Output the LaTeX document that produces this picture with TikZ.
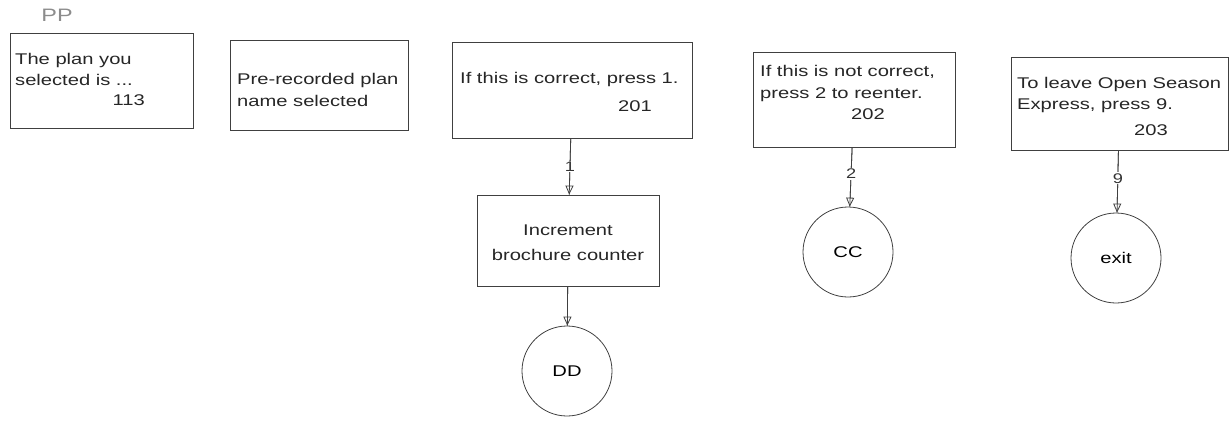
\documentclass[tikz,border=0pt]{standalone}
\usepackage{fontspec}
\setmainfont[FakeStretch=1.3]{Liberation Sans}
\usetikzlibrary{arrows.meta}
\tikzset{
  ln/.style={draw=black!75, line width=0.8pt},
  box/.style={ln, rectangle, inner sep=0pt},
  circ/.style={ln, circle, minimum size=90pt, inner sep=0pt, font=\fontsize{15.5}{18}\selectfont},
  txt/.style={inner sep=0pt, align=left, font=\fontsize{15.5}{21}\selectfont, text=black!85},
  ctxt/.style={inner sep=0pt, align=center, font=\fontsize{15.5}{25}\selectfont, text=black!85},
  num/.style={inner sep=0pt, font=\fontsize{15.5}{18}\selectfont, text=black!85},
  arr/.style={ln, -{Triangle[open, length=9pt, width=8pt]}},
  klab/.style={fill=white, inner sep=1pt, font=\fontsize{14}{15}\selectfont, text=black!80}
}
\begin{document}
\begin{tikzpicture}[x=1pt, y=-1pt]
\useasboundingbox (0,0) rectangle (1230,428);
% title
\node[font=\fontsize{18}{20}\selectfont, text=black!45] (pp) at (57,15) {PP};
% boxes
\node[box, minimum width=183pt, minimum height=95pt] (b1) at (101.5,80.5) {};
\node[box, minimum width=178pt, minimum height=90pt] (b2) at (319,85) {};
\node[box, minimum width=240pt, minimum height=96pt] (b3) at (572,90) {};
\node[box, minimum width=182pt, minimum height=91pt] (b4) at (568,240.5) {};
\node[box, minimum width=202pt, minimum height=95pt] (b5) at (854,99.5) {};
\node[box, minimum width=217pt, minimum height=93pt] (b6) at (1119.5,103.5) {};
% box texts (base anchor = last line baseline)
\node[txt, anchor=base west] (t1) at (15,85) {The plan you\\selected is ...};
\node[num, anchor=base east] (n1) at (145,105) {113};
\node[txt, anchor=base west] (t2) at (237,106) {Pre-recorded plan\\name selected};
\node[txt, anchor=base west] (t3) at (460,83) {If this is correct, press 1.};
\node[num, anchor=base east] (n3) at (652,111) {201};
\node[ctxt, anchor=base] (t4) at (568,260) {Increment\\brochure counter};
\node[txt, anchor=base west] (t5) at (760,98) {If this is not correct,\\press 2 to reenter.};
\node[num, anchor=base east] (n5) at (885,119) {202};
\node[txt, anchor=base west] (t6) at (1017,109) {To leave Open Season\\Express, press 9.};
\node[num, anchor=base east] (n6) at (1168,135) {203};
% circles
\node[circ] (dd) at (567,371) {DD};
\node[circ] (cc) at (848,252) {CC};
\node[circ] (ex) at (1116,258) {exit};
% connectors
\draw[ln] (b3) -- (b4);
\draw[arr] (b3) -- (b4) node[klab, pos=0.5] (k1) {1};
\draw[ln] (b4) -- (dd);
\draw[arr] (b4) -- (dd);
\draw[ln] (b5) -- (cc);
\draw[arr] (b5) -- (cc) node[klab, pos=0.45] (k2) {2};
\draw[ln] (b6) -- (ex);
\draw[arr] (b6) -- (ex) node[klab, pos=0.45] (k9) {9};
\end{tikzpicture}
\end{document}
